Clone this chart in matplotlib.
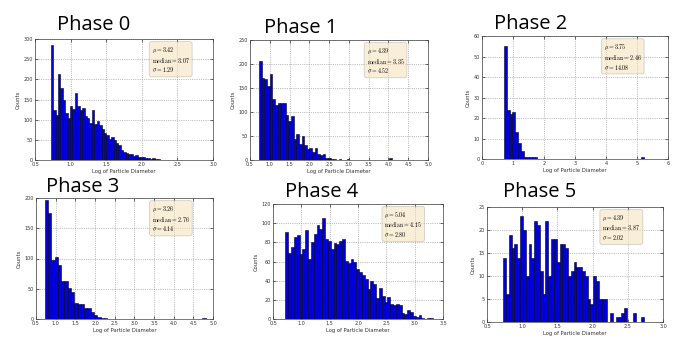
import numpy as np
import matplotlib
matplotlib.use('Agg')
from matplotlib import pyplot as plt

plt.rcParams['mathtext.fontset'] = 'cm'

# counts per bin
phase0 = [285, 125, 112, 214, 178, 148, 117, 104, 135, 127, 167, 133, 123, 128, 110, 105,
          92, 125, 89, 97, 87, 77, 68, 62, 52, 58, 50, 42, 37, 24, 21, 17, 15, 16, 10, 12,
          8, 8, 7, 5, 4, 3, 5, 3, 2, 1, 1, 0, 1, 0, 1, 0, 0, 1]
phase1 = [207, 170, 168, 154, 180, 128, 115, 119, 119, 118, 93, 82, 91, 44, 55, 33, 50, 32,
          22, 26, 17, 24, 12, 10, 13, 5, 5, 3, 2, 1, 3, 1, 1, 2, 0, 1, 1, 0, 1, 0, 1, 0, 0,
          1, 0, 1, 0, 0, 0, 4, 1, 0, 1, 0, 1]
phase2 = [55, 24, 22, 23, 13, 8, 4, 1, 1, 1, 1, 1] + [0] * 37 + [1]
phase3 = [197, 176, 98, 102, 89, 62, 62, 52, 45, 27, 25, 24, 18, 19, 12, 7, 4, 2, 1] + [0] * 29 + [1, 0]
phase4 = [91, 69, 75, 86, 88, 68, 73, 93, 63, 80, 89, 98, 94, 105, 84, 81, 73, 79, 78, 81,
          83, 61, 58, 63, 60, 52, 49, 46, 42, 31, 40, 37, 22, 32, 24, 18, 23, 16, 15, 16,
          15, 6, 5, 9, 7, 3, 2, 4, 1, 0, 1, 1]
phase5 = [14, 6, 19, 16, 17, 14, 23, 20, 10, 17, 14, 22, 21, 11, 6, 22, 10, 18, 18, 13,
          17, 17, 16, 10, 11, 13, 12, 12, 11, 10, 5, 4, 10, 9, 5, 5, 5, 0, 2, 0, 1, 1, 2, 3,
          0, 0, 2, 0, 0, 1]

bin_start = [0.72, 0.73, 0.71, 0.72, 0.72, 0.73]
bin_width = [0.034, 0.067, 0.09, 0.0836, 0.05, 0.04]

means = ['3.42', '4.39', '3.75', '3.26', '5.04', '4.39']
medians = ['3.07', '3.35', '2.46', '2.76', '4.15', '3.87']
sigmas = ['1.29', '4.52', '14.08', '4.14', '2.80', '2.02']

xlims = [(0.5, 3.0), (0.5, 5.0), (0, 6), (0.5, 5.0), (0.5, 3.5), (0.5, 3.0)]
xsteps = [0.5, 0.5, 1, 0.5, 0.5, 0.5]
ylims = [300, 250, 60, 200, 120, 25]
ysteps = [50, 50, 10, 50, 20, 5]

titles = ['Phase 0', 'Phase 1', 'Phase 2', 'Phase 3', 'Phase 4', 'Phase 5']

W, H = 673, 338
# axes boxes in pixels: left, top, right, bottom
boxes = [(35, 39, 213, 160), (250, 40, 428, 160), (482, 36, 668, 159),
         (36, 198, 213, 319), (273, 204, 443, 319), (487, 207, 663, 322)]
title_pos = [(94, 30), (301, 33), (531, 29), (83, 192), (322, 197), (540, 197)]

fig = plt.figure(figsize=(W / 100, H / 100), dpi=100)
fig.patch.set_facecolor('white')

data = [phase0, phase1, phase2, phase3, phase4, phase5]
for i, counts in enumerate(data):
    l, t, r, b = boxes[i]
    ax = fig.add_axes([l / W, 1 - b / H, (r - l) / W, (b - t) / H])
    x = bin_start[i] + bin_width[i] * np.arange(len(counts))
    ax.bar(x, counts, width=bin_width[i], align='edge', color='#0000dd',
           edgecolor='#000022', linewidth=0.4)
    ax.set_xlim(*xlims[i])
    ax.set_ylim(0, ylims[i])
    ax.set_xticks(np.arange(xlims[i][0], xlims[i][1] + 1e-9, xsteps[i]))
    ax.set_yticks(np.arange(0, ylims[i] + 1e-9, ysteps[i]))
    if xsteps[i] == 1:
        ax.xaxis.set_major_formatter(matplotlib.ticker.FormatStrFormatter('%d'))
    else:
        ax.xaxis.set_major_formatter(matplotlib.ticker.FormatStrFormatter('%.1f'))
    ax.grid(True, linestyle=':', color='#888888', linewidth=0.5)
    ax.set_axisbelow(True)
    ax.tick_params(direction='in', top=True, right=True, labelsize=3.5,
                   length=2, width=0.4, pad=1.5, colors='black', labelcolor='#333333')
    for s in ax.spines.values():
        s.set_linewidth(0.5)
        s.set_color('#444444')
    ax.set_xlabel('Log of Particle Diameter', fontsize=3.8, labelpad=1.5, color='#333333')
    ax.set_ylabel('Counts', fontsize=3.8, labelpad=2, color='#333333')
    txt = ('$\\mu=%s$\n$\\mathrm{median}=%s$\n$\\sigma=%s$'
           % (means[i], medians[i], sigmas[i]))
    ax.text(0.655, 0.95, txt, transform=ax.transAxes, fontsize=4.3, va='top', ha='left',
            linespacing=1.1,
            bbox=dict(boxstyle='round,pad=0.4', facecolor='wheat', alpha=0.5,
                      edgecolor='#999999', linewidth=0.5))
    tx, ty = title_pos[i]
    fig.text(tx / W, 1 - ty / H, titles[i], fontsize=14.5, family='Open Sans',
             ha='center', va='baseline', color='black')

fig.savefig('out.png', dpi=100)
